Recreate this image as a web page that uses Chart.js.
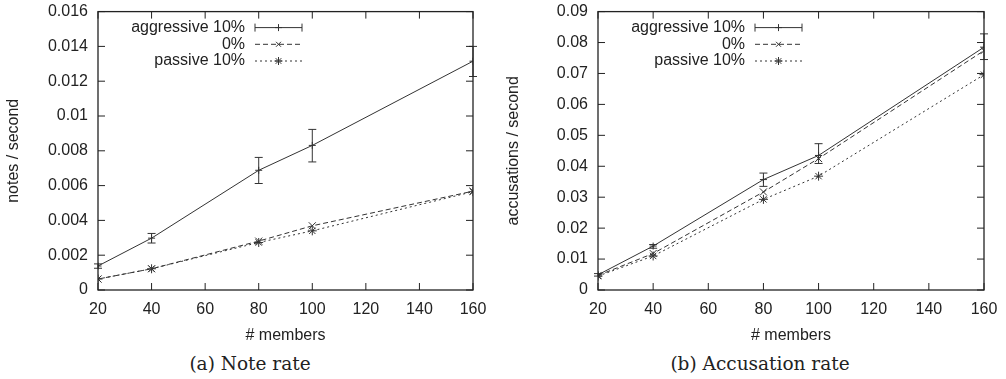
<!DOCTYPE html>
<html lang="en">
<head>
  <meta charset="UTF-8">
  <title>Note rate / Accusation rate</title>
  <script src="https://cdn.jsdelivr.net/npm/chart.js"></script>
  <style>
    body { margin: 0; background: white; }
    #wrap { position: relative; width: 1006px; height: 379px; }
    canvas { position: absolute; top: 0; }
    .caption { position: absolute; top: 353px; width: 300px; text-align: center; line-height: 22px;
               font-family: "DejaVu Serif", serif; font-size: 18.5px; color: #222; }
  </style>
</head>
<body>
  <div id="wrap">
    <canvas id="notes" width="500" height="345" style="left:0"></canvas>
    <canvas id="acc" width="506" height="345" style="left:500px"></canvas>
    <div class="caption" style="left:100px">(a) Note rate</div>
    <div class="caption" style="left:610px">(b) Accusation rate</div>
  </div>

  <script>
    const members = [20, 40, 80, 100, 160];
    const seriesLabels = ['aggressive 10%', '0%', 'passive 10%'];

    // (a) notes / second
    const aggNotes = [0.00138, 0.00298, 0.00688, 0.00831, 0.01315];
    const aggNotesLow = [0.00125, 0.00270, 0.00612, 0.00736, 0.01227];
    const aggNotesHigh = [0.00150, 0.00325, 0.00762, 0.00923, 0.01400];
    const zeroNotes = [0.00063, 0.00122, 0.00281, 0.00369, 0.00568];
    const passNotes = [0.00063, 0.00122, 0.00273, 0.00340, 0.00565];

    // (b) accusations / second
    const aggAcc = [0.0049, 0.0142, 0.0357, 0.0435, 0.0785];
    const aggAccLow = [0.0045, 0.0135, 0.0335, 0.0409, 0.0745];
    const aggAccHigh = [0.0053, 0.0147, 0.0378, 0.0473, 0.0828];
    const zeroAcc = [0.0047, 0.0118, 0.0317, 0.0425, 0.0774];
    const passAcc = [0.0045, 0.0110, 0.0293, 0.0368, 0.0696];

    const ink = '#222';
    const lineInk = '#333';
    const font16 = { family: '"Liberation Sans", Arial, sans-serif', size: 16 };

    function drawMarker(ctx, style, r, x, y) {
      ctx.beginPath();
      if (style === 'cross' || style === 'star') {
        ctx.moveTo(x - r, y); ctx.lineTo(x + r, y);
        ctx.moveTo(x, y - r); ctx.lineTo(x, y + r);
      }
      if (style === 'crossRot' || style === 'star') {
        const d = r * Math.SQRT1_2;
        ctx.moveTo(x - d, y - d); ctx.lineTo(x + d, y + d);
        ctx.moveTo(x - d, y + d); ctx.lineTo(x + d, y - d);
      }
      ctx.stroke();
    }

    // gnuplot look: error bars, framed box with inward ticks, key inside the plot
    const gnuplotLook = {
      id: 'gnuplotLook',
      afterDatasetsDraw(chart) {
        const ctx = chart.ctx;
        const y = chart.scales.y;
        chart.data.datasets.forEach((ds, i) => {
          if (!ds.errLow) return;
          const meta = chart.getDatasetMeta(i);
          ctx.save();
          ctx.strokeStyle = ds.borderColor;
          ctx.lineWidth = 1;
          meta.data.forEach((pt, j) => {
            const lo = y.getPixelForValue(ds.errLow[j]);
            const hi = y.getPixelForValue(ds.errHigh[j]);
            ctx.beginPath();
            ctx.moveTo(pt.x, lo); ctx.lineTo(pt.x, hi);
            ctx.moveTo(pt.x - 4, lo); ctx.lineTo(pt.x + 4, lo);
            ctx.moveTo(pt.x - 4, hi); ctx.lineTo(pt.x + 4, hi);
            ctx.stroke();
          });
          ctx.restore();
        });
      },
      afterDraw(chart) {
        const { ctx, chartArea: a, scales } = chart;
        ctx.save();
        ctx.strokeStyle = ink;
        ctx.lineWidth = 1.3;
        ctx.strokeRect(a.left, a.top, a.right - a.left, a.bottom - a.top);
        ctx.lineWidth = 1;
        ctx.beginPath();
        scales.x.ticks.forEach(t => {
          const px = scales.x.getPixelForValue(t.value);
          ctx.moveTo(px, a.bottom); ctx.lineTo(px, a.bottom - 7);
          ctx.moveTo(px, a.top); ctx.lineTo(px, a.top + 7);
        });
        scales.y.ticks.forEach(t => {
          const py = scales.y.getPixelForValue(t.value);
          ctx.moveTo(a.left, py); ctx.lineTo(a.left + 7, py);
          ctx.moveTo(a.right, py); ctx.lineTo(a.right - 7, py);
        });
        ctx.stroke();

        // key
        ctx.font = '16px "Liberation Sans", Arial, sans-serif';
        ctx.textAlign = 'right';
        ctx.textBaseline = 'middle';
        chart.data.datasets.forEach((ds, i) => {
          const ry = a.top + 16 + i * 16.7;
          const x0 = a.left + 157, x1 = a.left + 204;
          ctx.fillStyle = ink;
          ctx.fillText(ds.label, a.left + 147, ry);
          ctx.strokeStyle = ds.borderColor;
          ctx.setLineDash(ds.borderDash || []);
          ctx.beginPath();
          ctx.moveTo(x0, ry); ctx.lineTo(x1, ry);
          ctx.stroke();
          ctx.setLineDash([]);
          if (ds.errLow) {
            ctx.beginPath();
            ctx.moveTo(x0, ry - 4); ctx.lineTo(x0, ry + 4);
            ctx.moveTo(x1, ry - 4); ctx.lineTo(x1, ry + 4);
            ctx.stroke();
          }
          drawMarker(ctx, ds.pointStyle, ds.legendRadius, (x0 + x1) / 2, ry);
        });
        ctx.restore();
      }
    };

    function makeDatasets(agg, low, high, zero, pass) {
      const base = { borderColor: lineInk, borderWidth: 1, fill: false, tension: 0,
                     pointBorderWidth: 1, pointBackgroundColor: 'transparent', pointBorderColor: lineInk };
      return [
        { ...base, label: seriesLabels[0], data: agg, errLow: low, errHigh: high,
          pointStyle: 'cross', pointRadius: 3.5, legendRadius: 3.5 },
        { ...base, label: seriesLabels[1], data: zero, borderDash: [5, 3],
          pointStyle: 'crossRot', pointRadius: 5, legendRadius: 3.5 },
        { ...base, label: seriesLabels[2], data: pass, borderDash: [2, 3],
          pointStyle: 'star', pointRadius: 4.5, legendRadius: 4 }
      ];
    }

    function makeChart(id, datasets, yMax, yStep, yTitle, padRight) {
      return new Chart(document.getElementById(id), {
        type: 'line',
        data: { labels: members, datasets },
        plugins: [gnuplotLook],
        options: {
          responsive: false,
          animation: false,
          layout: { padding: { top: 5, right: padRight, left: 0, bottom: 0 } },
          plugins: { legend: { display: false }, tooltip: { enabled: false } },
          scales: {
            x: {
              type: 'linear', min: 20, max: 160,
              ticks: { stepSize: 20, color: ink, font: font16, padding: 2 },
              grid: { display: false },
              border: { display: false },
              title: { display: true, text: '# members', color: ink, font: font16, padding: { top: 4, bottom: 0 } },
              afterFit(scale) { scale.height = 55; }
            },
            y: {
              min: 0, max: yMax,
              ticks: { stepSize: yStep, color: ink, font: font16, padding: 2,
                       callback: v => String(+v.toFixed(4)) },
              grid: { display: false },
              border: { display: false },
              title: { display: true, text: yTitle, color: ink, font: font16, padding: 4 },
              afterFit(scale) { scale.width = 98; }
            }
          }
        }
      });
    }

    // pair x with y for the linear x axis
    function pair(values) {
      return values.map((v, i) => ({ x: members[i], y: v }));
    }

    const notesSets = makeDatasets(pair(aggNotes), aggNotesLow, aggNotesHigh, pair(zeroNotes), pair(passNotes));
    const accSets = makeDatasets(pair(aggAcc), aggAccLow, aggAccHigh, pair(zeroAcc), pair(passAcc));

    makeChart('notes', notesSets, 0.016, 0.002, 'notes / second', 27);
    makeChart('acc', accSets, 0.09, 0.01, 'accusations / second', 22);
  </script>
</body>
</html>
